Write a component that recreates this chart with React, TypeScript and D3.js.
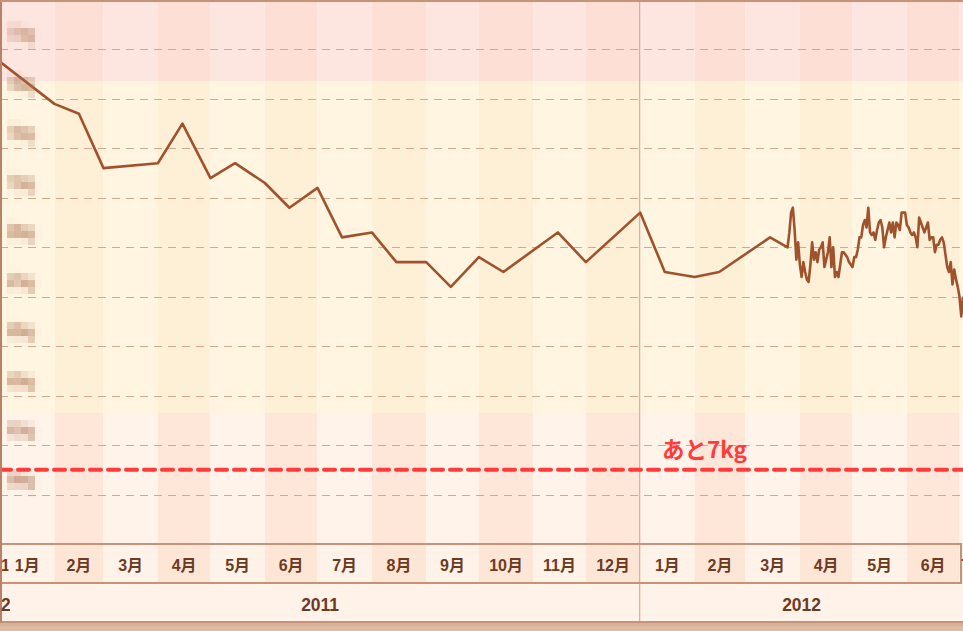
import React, { useEffect } from 'react';
import * as d3 from 'd3';

// 体重の記録（半月ごと）
const sparseDates = [
  '2011-01-01', '2011-02-01', '2011-02-15', '2011-03-01', '2011-04-01', '2011-04-15',
  '2011-05-01', '2011-05-15', '2011-06-01', '2011-06-15', '2011-07-01', '2011-07-15',
  '2011-08-01', '2011-08-15', '2011-09-01', '2011-09-15', '2011-10-01', '2011-10-15',
  '2011-11-15', '2011-12-01', '2012-01-01', '2012-01-15', '2012-02-01', '2012-02-15',
  '2012-03-15',
];
const sparseWeights = [
  76.5, 74.8, 74.4, 72.2, 72.4, 74.0,
  71.8, 72.4, 71.6, 70.6, 71.4, 69.4,
  69.6, 68.4, 68.4, 67.4, 68.6, 68.0,
  69.6, 68.4, 70.4, 68.0, 67.8, 68.0,
  69.4,
];

// 毎日の記録（2012-03-25 から）
const dailyStart = '2012-03-25';
const dailyWeights = [
  69.0, 69.6, 70.4, 70.6, 69.7, 68.5, 69.2, 68.3, 67.8, 68.4,
  68.0, 67.7, 67.6, 68.3, 69.2, 68.5, 68.8, 68.4, 68.9, 69.0,
  69.2, 68.2, 68.5, 68.8, 69.4, 68.2, 69.0, 67.8, 68.0, 67.8,
  68.3, 68.8, 68.8, 68.7, 68.6, 68.4, 68.3, 68.2, 68.6, 68.6,
  68.9, 69.4, 69.4, 69.9, 70.1, 69.8, 70.6, 69.6, 69.5, 69.6,
  69.3, 69.7, 70.0, 70.1, 69.8, 69.0, 69.4, 69.7, 70.0, 69.6,
  70.0, 69.4, 70.0, 69.9, 69.7, 70.4, 70.4, 70.4, 69.9, 69.8,
  69.6, 69.5, 69.6, 69.4, 69.0, 70.2, 70.0, 69.8, 69.6, 69.8,
  70.0, 69.3, 69.4, 69.4, 68.8, 69.1, 69.1, 69.3, 69.4, 69.2,
  68.7, 68.2, 68.0, 68.4, 67.5, 68.1, 67.7, 67.4, 67.0, 66.2,
  67.0,
];

const goalWeight = 60;
const goalLabel = 'あと7kg';
const gridValues = [59, 61, 63, 65, 67, 69, 71, 73, 75, 77];
const yLabels = ['59kg', '61kg', '63kg', '65kg', '67kg', '69kg', '71kg', '73kg', '75kg', '77kg'];
const zoneUpper = 75.7;
const zoneLower = 62.3;
const monthLabels = [
  '1月', '2月', '3月', '4月', '5月', '6月', '7月', '8月', '9月', '10月', '11月', '12月',
  '1月', '2月', '3月', '4月', '5月', '6月', '7月',
];
const yearLabels = ['2011', '2012'];

const W = 963;
const H = 631;
const plotBottom = 544;
const monthBottom = 583;
const yearBottom = 622;

const parse = d3.timeParse('%Y-%m-%d');

export default function App() {
  useEffect(() => {
    document.body.style.margin = '0';
  }, []);

  const x = d3.scaleTime()
    .domain([new Date(2011, 0, 1), new Date(2012, 6, 3)])
    .range([0, W]);
  const y = d3.scaleLinear().domain([57, 79]).range([plotBottom, 0]);

  const points: [Date, number][] = sparseDates.map((d, i) => [parse(d)!, sparseWeights[i]]);
  const d0 = parse(dailyStart)!;
  dailyWeights.forEach((w, i) => points.push([d3.timeDay.offset(d0, i), w]));

  const line = d3.line<[Date, number]>()
    .x(d => x(d[0]))
    .y(d => y(d[1]));

  const months = d3.timeMonth.range(new Date(2011, 0, 1), new Date(2012, 7, 1));
  const years = [new Date(2011, 0, 1), new Date(2012, 0, 1)];

  const zones = [
    { y0: 0, y1: y(zoneUpper), light: '#fee6e0', dark: '#fddfd6' },
    { y0: y(zoneUpper), y1: y(zoneLower), light: '#fff5e1', dark: '#feefd7' },
    { y0: y(zoneLower), y1: plotBottom, light: '#fff3ea', dark: '#fee7d9' },
  ];

  const font = '"Liberation Sans", "Noto Sans CJK JP", sans-serif';
  const textColor = '#6d3b1f';
  const borderColor = '#c6937a';

  return (
    <svg width={W} height={H} style={{ display: 'block' }}>
      <defs>
        <clipPath id="plot"><rect x={0} y={0} width={W} height={plotBottom} /></clipPath>
        <clipPath id="leftMonth"><rect x={0} y={monthBottom - 40} width={8.5} height={40} /></clipPath>
        <clipPath id="leftYear"><rect x={0} y={monthBottom} width={10} height={40} /></clipPath>
        <filter id="mosaic" filterUnits="userSpaceOnUse" x={0} y={0} width={W} height={plotBottom}>
          <feGaussianBlur in="SourceGraphic" stdDeviation="2.4" result="soft" />
          <feFlood x="3" y="3" width="1" height="1" floodColor="#000" result="dot" />
          <feComposite in="dot" in2="dot" x="0" y="0" width="7" height="7" result="cell" />
          <feTile in="cell" result="grid" />
          <feComposite in="soft" in2="grid" operator="in" result="sampled" />
          <feMorphology in="sampled" operator="dilate" radius="3" />
        </filter>
      </defs>

      {/* 背景のゾーンと月ごとの縞 */}
      {zones.map((z, zi) => months.map((m, mi) => {
        const x0 = x(m);
        const x1 = Math.min(W, x(d3.timeMonth.offset(m, 1)));
        return (
          <rect key={`z${zi}-${mi}`} x={x0} y={z.y0} width={Math.max(0, x1 - x0)} height={z.y1 - z.y0}
            fill={m.getMonth() % 2 === 1 ? z.dark : z.light} />
        );
      }))}

      {/* 月の帯 */}
      {months.map((m, mi) => {
        const x0 = x(m);
        const x1 = Math.min(W, x(d3.timeMonth.offset(m, 1)));
        return (
          <rect key={`mb${mi}`} x={x0} y={plotBottom} width={Math.max(0, x1 - x0)} height={monthBottom - plotBottom}
            fill={m.getMonth() % 2 === 1 ? '#fee6d7' : '#fff2e8'} />
        );
      })}
      <rect x={0} y={monthBottom} width={W} height={yearBottom - monthBottom} fill="#fff2e9" />
      <rect x={0} y={yearBottom} width={W} height={H - yearBottom} fill="#d7b196" />
      <rect x={0} y={yearBottom + 4} width={W} height={H - yearBottom - 4} fill="#dcbca2" />

      {/* 目盛り線 */}
      {gridValues.map(v => (
        <line key={`g${v}`} x1={0} x2={W} y1={Math.round(y(v)) + 0.5} y2={Math.round(y(v)) + 0.5}
          stroke="#d4a78e" strokeWidth={1} strokeDasharray="8,6" />
      ))}

      {/* 年の境界 */}
      <line x1={x(years[1]) - 0.5} x2={x(years[1]) - 0.5} y1={0} y2={yearBottom} stroke="#cba18a" strokeWidth={1} />

      {/* 体重ライン */}
      <path d={line(points) ?? ''} fill="none" stroke="#a0522d" strokeWidth={2.6}
        strokeLinejoin="round" clipPath="url(#plot)" />

      {/* 縦軸ラベル（モザイク） */}
      <g filter="url(#mosaic)">
        {gridValues.map((v, i) => (
          <text key={`yl${v}`} x={8} y={y(v) - 9} fontSize={19} fontWeight="bold" fontFamily={font}
            textLength={26} lengthAdjust="spacingAndGlyphs" fill="#a86e50">{yLabels[i]}</text>
        ))}
      </g>

      {/* 目標ライン */}
      <line x1={0} x2={W} y1={y(goalWeight)} y2={y(goalWeight)} stroke="#ff3b3b" strokeWidth={4}
        strokeDasharray="11,7" strokeLinecap="round" />
      <text x={662} y={y(goalWeight) - 12} fontSize={22.5} fontWeight="bold" fill="#ff3b3b"
        fontFamily={'"Noto Sans CJK JP", sans-serif'}>{goalLabel}</text>

      {/* 軸の枠線 */}
      <line x1={0} x2={W - 1} y1={plotBottom} y2={plotBottom} stroke={borderColor} strokeWidth={2} />
      <line x1={0} x2={W - 1} y1={monthBottom} y2={monthBottom} stroke={borderColor} strokeWidth={2} />
      <line x1={W - 2} x2={W - 2} y1={plotBottom} y2={monthBottom} stroke={borderColor} strokeWidth={2} />
      <line x1={0} x2={W} y1={yearBottom} y2={yearBottom} stroke={borderColor} strokeWidth={2} />
      <line x1={1} x2={1} y1={0} y2={yearBottom} stroke="#b98169" strokeWidth={2} />
      <line x1={0} x2={W} y1={1} y2={1} stroke={borderColor} strokeWidth={2} />

      {/* 月ラベル */}
      {months.map((m, mi) => {
        const x0 = x(m);
        const x1 = x(d3.timeMonth.offset(m, 1));
        const half = monthLabels[mi].length > 2 ? 19 : 14;
        const cx = Math.max((x0 + Math.min(x1, W)) / 2, x0 + half);
        return (
          <text key={`ml${mi}`} x={cx} y={571} textAnchor="middle" fontSize={16} fontWeight="bold"
            fontFamily={font} fill={textColor}>{monthLabels[mi]}</text>
        );
      })}
      <text x={1} y={571} fontSize={16} fontWeight="bold" fontFamily={font} fill={textColor}
        clipPath="url(#leftMonth)">12月</text>

      {/* 年ラベル */}
      {years.map((yr, i) => {
        const x0 = x(yr);
        const x1 = Math.min(W, x(d3.timeYear.offset(yr, 1)));
        return (
          <text key={`yr${i}`} x={(x0 + x1) / 2} y={610.5} textAnchor="middle" fontSize={17.5} fontWeight="bold"
            fontFamily={font} fill={textColor}>{yearLabels[i]}</text>
        );
      })}
      <text x={1} y={610.5} fontSize={17.5} fontWeight="bold" fontFamily={font} fill={textColor}
        clipPath="url(#leftYear)">2010</text>
    </svg>
  );
}
